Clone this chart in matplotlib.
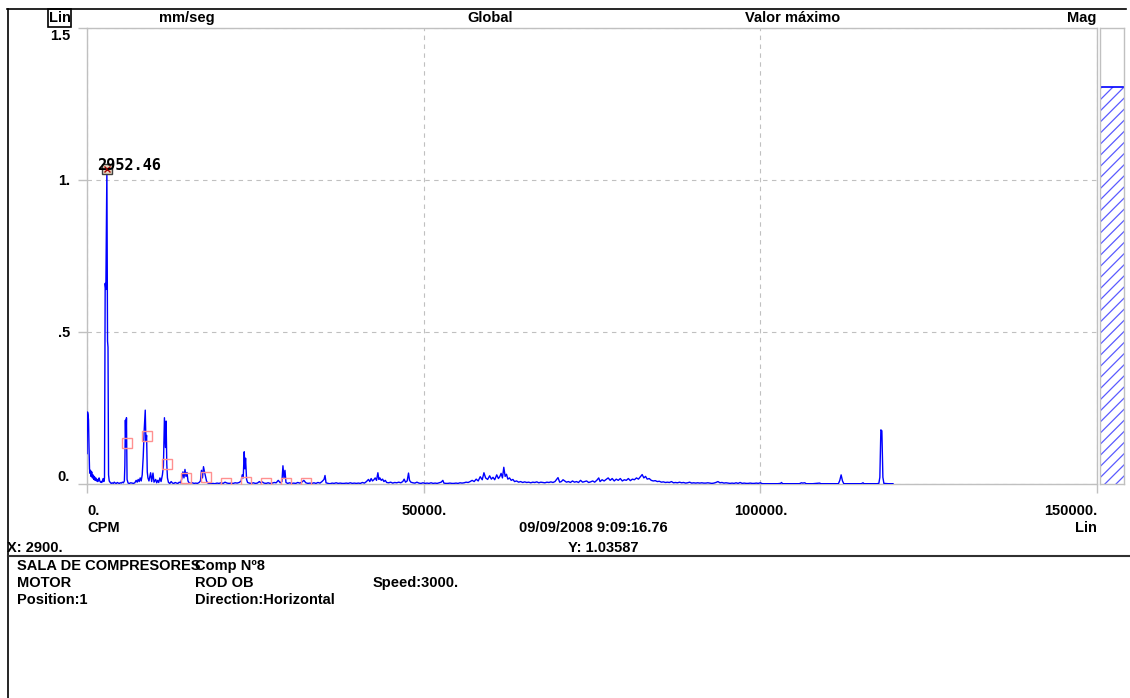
import matplotlib
matplotlib.use("Agg")
import matplotlib.pyplot as plt
from matplotlib.lines import Line2D
from matplotlib.patches import Rectangle

# ---------------- data ----------------
freq_cpm = [
    0, 75, 150, 225, 300, 375, 450, 525, 600, 700, 800, 900, 1000, 1100, 1200, 1300, 1400, 1500,
    1600, 1700, 1800, 1900, 2000, 2100, 2200, 2300, 2400, 2500, 2600, 2700, 2800, 2952.46, 3050,
    3120, 3200, 3300, 3450, 3600, 3750, 3900, 4050, 4200, 4350, 4500, 4650, 4800, 4950, 5100, 5250,
    5400, 5550, 5620, 5700, 5780, 5860, 5950, 6100, 6300, 6500, 6700, 6900, 7100, 7300, 7450, 7600,
    7750, 7900, 8050, 8200, 8350, 8500, 8650, 8750, 8850, 8950, 9050, 9200, 9450, 9600, 9800, 9950,
    10200, 10350, 10500, 10650, 10830, 11000, 11200, 11350, 11500, 11650, 11750, 11850, 11950, 12100,
    12300, 12500, 12700, 12900, 13100, 13300, 13500, 13700, 13900, 14050, 14250, 14400, 14550, 14700,
    14850, 15000, 15150, 15400, 15650, 15900, 16150, 16400, 16650, 16850, 17000, 17150, 17300, 17450,
    17600, 17750, 17900, 18100, 18400, 18700, 19000, 19300, 19600, 19900, 20200, 20500, 20800, 21100,
    21400, 21700, 22000, 22300, 22600, 22900, 23050, 23200, 23350, 23450, 23550, 23700, 23850, 24100,
    24400, 24700, 25000, 25300, 25600, 25800, 26000, 26300, 26600, 26900, 27200, 27500, 27800, 28100,
    28400, 28700, 28950, 29100, 29250, 29400, 29550, 29800, 30100, 30400, 30700, 31000, 31300, 31600,
    31900, 32200, 32500, 32800, 33100, 33400, 33700, 34000, 34300, 34600, 34900, 35200, 35350, 35500,
    35800, 36100, 36400, 36700, 37000, 37300, 37600, 37900, 38200, 38500, 38800, 39100, 39400, 39700,
    40000, 40300, 40600, 40900, 41200, 41500, 41800, 42000, 42200, 42400, 42600, 42800, 43000, 43200,
    43350, 43500, 43700, 43900, 44100, 44300, 44500, 44800, 45100, 45400, 45700, 46000, 46300, 46600,
    46900, 47100, 47300, 47550, 47750, 47900, 48100, 48400, 48700, 49000, 49300, 49600, 49900, 50200,
    50500, 50800, 51100, 51400, 51700, 52000, 52300, 52600, 52850, 53000, 53300, 53600, 53900, 54200,
    54500, 54800, 55100, 55400, 55700, 56000, 56300, 56600, 56900, 57200, 57500, 57800, 58100, 58400,
    58700, 58950, 59200, 59500, 59800, 60050, 60300, 60550, 60850, 61100, 61300, 61500, 61700, 61900,
    62100, 62300, 62500, 62750, 63000, 63250, 63500, 63800, 64100, 64400, 64700, 65000, 65300, 65600,
    65900, 66200, 66500, 66800, 67100, 67400, 67700, 68000, 68300, 68600, 68900, 69200, 69500, 69950,
    70200, 70450, 70700, 70950, 71200, 71500, 71800, 72100, 72400, 72700, 73000, 73300, 73600, 73900,
    74200, 74500, 74800, 75100, 75400, 75700, 76000, 76200, 76500, 76800, 77100, 77400, 77700, 78000,
    78300, 78600, 78900, 79200, 79500, 79800, 80100, 80400, 80700, 81000, 81300, 81600, 81900, 82200,
    82450, 82700, 82950, 83200, 83500, 83800, 84100, 84400, 84700, 85000, 85300, 85600, 85900, 86200,
    86500, 86800, 87100, 87400, 87700, 88000, 88300, 88600, 88900, 89200, 89500, 89800, 90100, 90400,
    90700, 91000, 91300, 91600, 91900, 92200, 92500, 92800, 93100, 93400, 93700, 94000, 94300, 94600,
    94900, 95200, 95500, 95800, 96100, 96400, 96700, 97000, 97300, 97600, 97900, 98200, 98500, 98800,
    99100, 99400, 99700, 100000, 100300, 101000, 101800, 102600, 103000, 103150, 103300, 104200,
    105000, 105800, 106100, 106300, 106600, 106800, 107800, 108800, 109000, 110000, 111000, 111600,
    111800, 112000, 112200, 112400, 113000, 114000, 115000, 115250, 115400, 116500, 117300, 117600,
    117750, 117900, 118050, 118200, 118350, 119000, 119700,
]
amp_mm_s = [
    0.10, 0.237, 0.23, 0.21, 0.12, 0.05, 0.035, 0.045, 0.025, 0.04, 0.02, 0.03, 0.015, 0.025, 0.012, 0.02, 0.01, 0.015,
    0.008, 0.012, 0.02, 0.01, 0.006, 0.008, 0.005, 0.012, 0.018, 0.008, 0.02, 0.66, 0.64, 1.03587, 0.47,
    0.45, 0.03, 0.01, 0.005, 0.002, 0.004, 0.002, 0.006, 0.003, 0.002, 0.005, 0.003, 0.002, 0.004, 0.003, 0.006,
    0.004, 0.01, 0.06, 0.21, 0.12, 0.218, 0.015, 0.003, 0.002, 0.004, 0.003, 0.002, 0.004, 0.012, 0.006, 0.015,
    0.008, 0.02, 0.01, 0.03, 0.09, 0.18, 0.243, 0.14, 0.16, 0.04, 0.02, 0.01, 0.037, 0.008, 0.036, 0.006,
    0.015, 0.004, 0.012, 0.005, 0.02, 0.008, 0.03, 0.06, 0.218, 0.12, 0.207, 0.065, 0.02, 0.005,
    0.002, 0.008, 0.003, 0.002, 0.005, 0.003, 0.002, 0.006, 0.004, 0.015, 0.04, 0.02, 0.048, 0.025,
    0.038, 0.01, 0.004, 0.002, 0.004, 0.002, 0.003, 0.002, 0.005, 0.01, 0.045, 0.02, 0.057, 0.04,
    0.025, 0.01, 0.004, 0.002, 0.001, 0.002, 0.001, 0.003, 0.002, 0.004, 0.002, 0.006, 0.003, 0.002,
    0.003, 0.002, 0.004, 0.003, 0.005, 0.01, 0.03, 0.02, 0.106, 0.05, 0.085, 0.015, 0.005, 0.003,
    0.002, 0.004, 0.002, 0.003, 0.008, 0.004, 0.007, 0.003, 0.002, 0.004, 0.002, 0.003, 0.005, 0.004,
    0.012, 0.004, 0.008, 0.06, 0.02, 0.045, 0.005, 0.002, 0.004, 0.002, 0.003, 0.002, 0.005, 0.003,
    0.006, 0.012, 0.004, 0.002, 0.003, 0.002, 0.004, 0.002, 0.005, 0.003, 0.008, 0.015, 0.028, 0.004,
    0.002, 0.001, 0.003, 0.002, 0.004, 0.002, 0.003, 0.002, 0.002, 0.003, 0.002, 0.004, 0.002, 0.003,
    0.002, 0.003, 0.002, 0.005, 0.003, 0.008, 0.015, 0.008, 0.018, 0.01, 0.014, 0.02, 0.012, 0.037,
    0.015, 0.02, 0.012, 0.016, 0.008, 0.012, 0.005, 0.004, 0.006, 0.003, 0.005, 0.004, 0.006, 0.004,
    0.008, 0.016, 0.006, 0.01, 0.036, 0.012, 0.006, 0.004, 0.003, 0.006, 0.003, 0.002, 0.004, 0.002,
    0.003, 0.002, 0.004, 0.002, 0.003, 0.002, 0.004, 0.006, 0.012, 0.003, 0.002, 0.002, 0.003, 0.002,
    0.002, 0.003, 0.002, 0.004, 0.003, 0.004, 0.006, 0.005, 0.008, 0.012, 0.008, 0.016, 0.01, 0.024,
    0.014, 0.037, 0.02, 0.015, 0.027, 0.016, 0.022, 0.014, 0.03, 0.018, 0.024, 0.035, 0.02, 0.055,
    0.025, 0.032, 0.016, 0.02, 0.012, 0.015, 0.008, 0.01, 0.006, 0.008, 0.005, 0.007, 0.005, 0.006,
    0.004, 0.006, 0.005, 0.007, 0.004, 0.006, 0.005, 0.004, 0.006, 0.005, 0.007, 0.005, 0.008, 0.021,
    0.006, 0.008, 0.014, 0.01, 0.006, 0.008, 0.005, 0.01, 0.006, 0.008, 0.005, 0.012, 0.006, 0.008,
    0.01, 0.005, 0.007, 0.01, 0.006, 0.012, 0.02, 0.008, 0.014, 0.01, 0.015, 0.02, 0.012, 0.018,
    0.01, 0.016, 0.012, 0.018, 0.01, 0.014, 0.012, 0.018, 0.011, 0.016, 0.014, 0.02, 0.016, 0.024,
    0.031, 0.02, 0.025, 0.016, 0.018, 0.012, 0.01, 0.011, 0.008, 0.009, 0.006, 0.007, 0.005, 0.006,
    0.005, 0.008, 0.004, 0.005, 0.004, 0.006, 0.004, 0.005, 0.003, 0.004, 0.006, 0.003, 0.004, 0.003,
    0.004, 0.003, 0.004, 0.003, 0.003, 0.004, 0.003, 0.002, 0.003, 0.005, 0.008, 0.004, 0.005, 0.003,
    0.004, 0.003, 0.002, 0.003, 0.002, 0.004, 0.002, 0.005, 0.002, 0.003, 0.002, 0.002, 0.003, 0.002,
    0.002, 0.003, 0.002, 0.004, 0.001, 0.001, 0.001, 0.001, 0.002, 0.005, 0.001, 0.001,
    0.001, 0.001, 0.004, 0.003, 0.004, 0.001, 0.001, 0.003, 0.001, 0.001, 0.001, 0.001,
    0.012, 0.03, 0.01, 0.001, 0.001, 0.001, 0.001, 0.004, 0.001, 0.001, 0.001, 0.002,
    0.022, 0.178, 0.175, 0.022, 0.002, 0.001, 0.001,
]

peak_freq = 2952.46
peak_amp = 1.03587
peak_label = "2952.46"

harm_freq = [5905, 8857, 11810, 14762, 17715, 20667, 23620, 26572, 29524, 32477]
harm_amp = [0.134, 0.159, 0.065, 0.021, 0.024, 0.002, 0.008, 0.002, 0.002, 0.002]

mag_value = 1.306

x_ticks = [0, 50000, 100000, 150000]
x_tick_labels = ["0.", "50000.", "100000.", "150000."]
y_ticks = [0, 0.5, 1.0, 1.5]
y_tick_labels = ["0.", ".5", "1.", "1.5"]

header_left = "Lin"
header_units = "mm/seg"
header_global = "Global"
header_value = "Valor máximo"
header_mag = "Mag"
x_unit = "CPM"
x_scale = "Lin"
timestamp = "09/09/2008 9:09:16.76"
cursor_x = "X: 2900."
cursor_y = "Y: 1.03587"
info_rows = [
    ["SALA DE COMPRESORES", "Comp Nº8", ""],
    ["MOTOR", "ROD OB", "Speed:3000."],
    ["Position:1", "Direction:Horizontal", ""],
]

# ---------------- figure ----------------
W, H = 1130, 698
fig = plt.figure(figsize=(W / 100, H / 100), dpi=100)
fig.patch.set_facecolor("white")

FONT = "Liberation Sans"
FS = 10.5
GRAY = "#c0c0c0"


def fx(x):
    return x / W


def fy(y):
    return 1 - y / H


def ftext(x, y, s, ha="left", **kw):
    kw.setdefault("fontsize", FS)
    kw.setdefault("fontweight", "bold")
    kw.setdefault("family", FONT)
    fig.text(fx(x), fy(y), s, ha=ha, va="center", **kw)


# frame lines
fig.add_artist(Line2D([fx(7), fx(1126)], [fy(9), fy(9)], color="black", lw=1.2))
fig.add_artist(Line2D([fx(8), fx(8)], [fy(9), fy(698)], color="black", lw=1.2))
fig.add_artist(Line2D([fx(8), fx(1130)], [fy(556), fy(556)], color="#303030", lw=1.5))

# main axes
L, R, T, B = 87, 1097, 28, 484
ax = fig.add_axes([fx(L), fy(B), (R - L) / W, (B - T) / H])
ax.set_xlim(0, 150000)
ax.set_ylim(0, 1.5)
for sp in ax.spines.values():
    sp.set_color(GRAY)
    sp.set_linewidth(1)
ax.set_xticks(x_ticks)
ax.set_yticks(y_ticks)
ax.tick_params(direction="out", length=6.5, color=GRAY, width=1,
               labelbottom=False, labelleft=False)
ax.grid(True, color=GRAY, linestyle=(0, (4, 4)), linewidth=0.8)
ax.set_axisbelow(True)

ax.plot(freq_cpm, amp_mm_s, color="#0000ff", lw=1.0, zorder=3)
ax.plot(harm_freq, harm_amp, "s", ms=7.2, mfc="none", mec="#ff9090", mew=1, zorder=4)
ax.plot([peak_freq], [peak_amp], "s", ms=6.5, mfc="#e8d8c0", mec="#404040", mew=1, zorder=5)
ax.plot([peak_freq], [peak_amp], "x", ms=4, mec="#a00000", mew=1, zorder=6)
ax.annotate(peak_label, (peak_freq, peak_amp), xytext=(-7, 2.5), textcoords="offset points",
            ha="left", va="center", family="DejaVu Sans Mono", fontweight="bold",
            fontsize=11, zorder=7)

# magnitude bar
axm = fig.add_axes([fx(1100), fy(B), 24 / W, (B - T) / H])
axm.set_xlim(0, 1)
axm.set_ylim(0, 1.5)
axm.set_xticks([])
axm.set_yticks([])
for sp in axm.spines.values():
    sp.set_color(GRAY)
    sp.set_linewidth(1)
plt.rcParams["hatch.linewidth"] = 0.9
axm.bar([0.5], [mag_value], width=1.0, color="none", edgecolor="#5a5aff", hatch="///", lw=0)
axm.hlines(mag_value, 0, 1, color="#0000ff", lw=1.2)

# header
fig.add_artist(Rectangle((fx(48), fy(27)), (71 - 48) / W, (27 - 9) / H,
                         fill=False, ec="black", lw=1.2))
ftext(59.5, 18, header_left, ha="center")
ftext(187, 18, header_units, ha="center")
ftext(490, 18, header_global, ha="center")
ftext(793, 18, header_value, ha="center")
ftext(1096, 18, header_mag, ha="right")

# y tick labels
y_label_px = [477, 333, 181, 36]
for lab, ypx in zip(y_tick_labels, y_label_px):
    ftext(70, ypx, lab, ha="right")

# x tick labels
x_label_px = [(87, "left"), (424, "center"), (761, "center"), (1097, "right")]
for lab, (xp, ha) in zip(x_tick_labels, x_label_px):
    ftext(xp, 511, lab, ha=ha)

ftext(87, 528, x_unit)
ftext(1097, 528, x_scale, ha="right")
ftext(593, 528, timestamp, ha="center")
ftext(7, 548, cursor_x)
ftext(568, 548, cursor_y)

# info block
row_y = [566, 583, 600]
col_x = [17, 195, 373]
for row, ypx in zip(info_rows, row_y):
    for s, xpx in zip(row, col_x):
        if s:
            ftext(xpx, ypx, s)

fig.savefig("out.png", dpi=100)
